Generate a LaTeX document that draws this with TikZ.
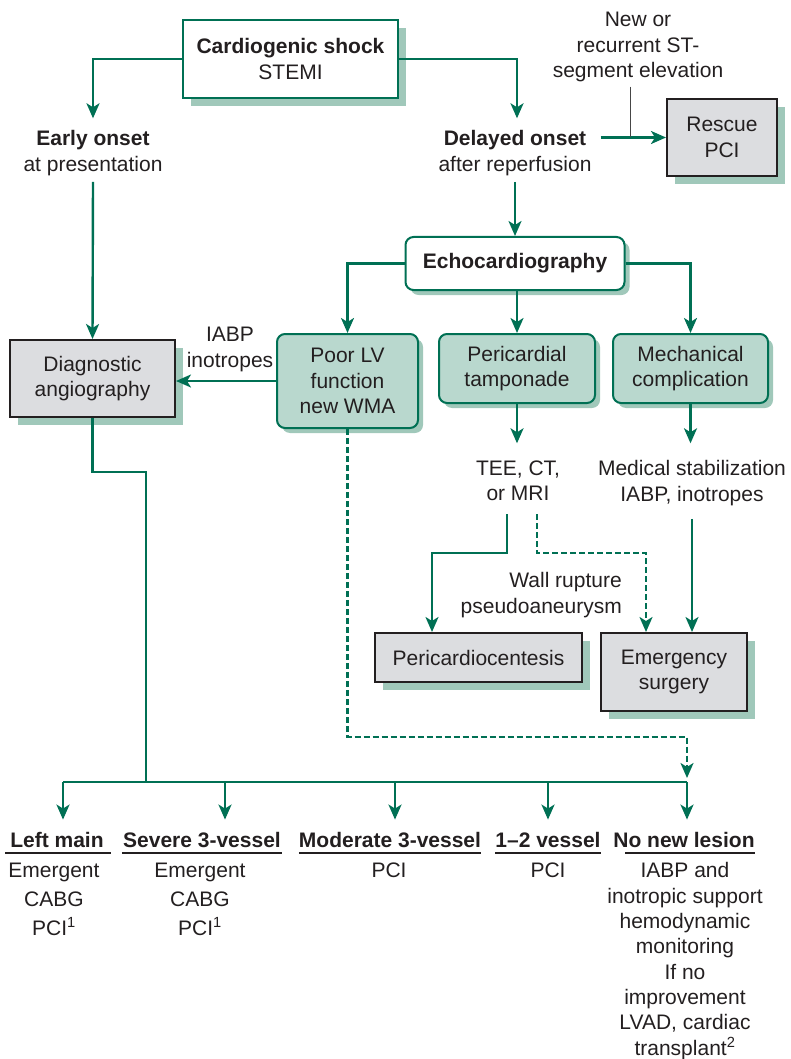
\documentclass[tikz,border=0pt]{standalone}
\usepackage{fontspec}
\setmainfont{Liberation Sans}
\usetikzlibrary{arrows.meta,calc,shadows}
\definecolor{grn}{RGB}{0,112,84}
\definecolor{tfill}{RGB}{185,216,206}
\definecolor{shc}{RGB}{160,200,186}
\definecolor{gfill}{RGB}{220,221,224}
\definecolor{ink}{RGB}{35,31,32}
\definecolor{stc}{RGB}{70,70,70}
\begin{document}
\begin{tikzpicture}[x=1pt,y=-1pt,
  every node/.style={text=ink},
  font=\fontsize{21}{25.5}\selectfont,
  txt/.style={inner sep=0pt, align=center},
  wbox/.style={draw=grn, line width=2pt, fill=white, align=center, inner sep=2pt,
    drop shadow={shadow xshift=8pt, shadow yshift=-8pt, fill=shc, opacity=1}},
  gbox/.style={draw=ink, line width=2pt, fill=gfill, align=center, inner sep=2pt,
    drop shadow={shadow xshift=8pt, shadow yshift=-8pt, fill=shc, opacity=1}},
  tbox/.style={draw=grn, line width=2pt, fill=tfill, rounded corners=8pt, align=center, inner sep=2pt,
    drop shadow={shadow xshift=5pt, shadow yshift=-5pt, fill=shc, opacity=1}},
  ebox/.style={draw=grn, line width=2pt, fill=white, rounded corners=8pt, align=center, inner sep=2pt,
    drop shadow={shadow xshift=5pt, shadow yshift=-5pt, fill=shc, opacity=1}},
  line/.style={draw=grn, line width=2.4pt},
  arr/.style={line, -{Stealth[length=15pt, width=13pt, inset=4pt]}},
  dasharr/.style={draw=grn, line width=2.4pt, dash pattern=on 6pt off 3pt, -{Stealth[length=15pt, width=13pt, inset=4pt]}},
  stl/.style={draw=stc, line width=1pt},
  uline/.style={draw=ink, line width=1.2pt}
]
\useasboundingbox (0,0) rectangle (790,1059);

% boxes
\node[wbox, minimum width=215, minimum height=78] (cs) at (290.5,59) {\textbf{Cardiogenic shock}\\STEMI};
\node[gbox, minimum width=110, minimum height=77] (rescue) at (722,137.5) {Rescue\\PCI};
\node[ebox, minimum width=219, minimum height=53] (echo) at (515,263.5) {\textbf{Echocardiography}};
\node[tbox, minimum width=141, minimum height=94] (poor) at (347.5,381) {Poor LV\\function\\new WMA};
\node[tbox, minimum width=156, minimum height=69] (peri) at (517,368.5) {Pericardial\\tamponade};
\node[tbox, minimum width=155, minimum height=69] (mech) at (690.5,368.5) {Mechanical\\complication};
\node[gbox, minimum width=165, minimum height=77] (diag) at (92.5,378.5) {Diagnostic\\angiography};
\node[gbox, minimum width=207, minimum height=49] (pcent) at (478.5,657.5) {Pericardiocentesis};
\node[gbox, minimum width=146, minimum height=78] (emerg) at (674,672) {Emergency\\surgery};

% text labels
\node[txt, anchor=north] (early) at (93,130.3) {\textbf{Early onset}\\at presentation};
\node[txt, anchor=north] (delayed) at (515,130.3) {\textbf{Delayed onset}\\after reperfusion};
\node[txt, anchor=north] (st) at (638,12.3) {New or\\recurrent ST-\\segment elevation};
\node[txt, anchor=north] (iabp) at (230,327) {IABP\\inotropes};
\node[txt, anchor=north] (tee) at (518,460.3) {TEE, CT,\\or MRI};
\node[txt, anchor=north] (med) at (692,460.3) {Medical stabilization\\IABP, inotropes};
\node[txt, anchor=north east, align=right] (wall) at (622,572.3) {Wall rupture\\pseudoaneurysm};

% bottom titles
\node[txt, anchor=base] (t1) at (57,847) {\textbf{Left main}};
\node[txt, anchor=base] (t2) at (202,847) {\textbf{Severe 3-vessel}};
\node[txt, anchor=base] (t3) at (390,847) {\textbf{Moderate 3-vessel}};
\node[txt, anchor=base] (t4) at (548,847) {\textbf{1–2 vessel}};
\node[txt, anchor=base] (t5) at (684,847) {\textbf{No new lesion}};
\draw[uline] ($(t1.base west)+(-5,6)$) -- ($(t1.base east)+(7,6)$);
\draw[uline] ($(t2.base west)+(-1,6)$) -- ($(t2.base east)+(1,6)$);
\draw[uline] ($(t3.base west)+(0,6)$) -- ($(t3.base east)+(0,6)$);
\draw[uline] ($(t4.base west)+(0,6)$) -- ($(t4.base east)+(0,6)$);
\draw[uline] ($(t5.base west)+(12,6)$) -- ($(t5.base east)+(0,6)$);

% bottom columns
\node[txt, anchor=north, font=\fontsize{21}{29}\selectfont] (c1) at (54,862.5) {Emergent\\CABG\\PCI\textsuperscript{1}};
\node[txt, anchor=north, font=\fontsize{21}{29}\selectfont] (c2) at (200,862.5) {Emergent\\CABG\\PCI\textsuperscript{1}};
\node[txt, anchor=north] (c3) at (389,862.5) {PCI};
\node[txt, anchor=north] (c4) at (548,862.5) {PCI};
\node[txt, anchor=north, font=\fontsize{21}{25.3}\selectfont] (c5) at (685,862.5) {IABP and\\inotropic support\\hemodynamic\\monitoring\\If no\\improvement\\LVAD, cardiac\\transplant\textsuperscript{2}};

% coordinates
\coordinate (b1) at (63,782);
\coordinate (b2) at (225,782);
\coordinate (b3) at (395,782);
\coordinate (b4) at (548,782);
\coordinate (b5) at (687,782);
\coordinate (j1) at (146,472);
\coordinate (dj) at (687,737);
\coordinate (k1) at (432,553);
\coordinate (k2) at (646,553);
\coordinate (stx) at (630,137);

% connectors
\draw[arr] (cs.west) -| ($(early.north)+(0,-12)$);
\draw[arr] (cs.east) -| ($(delayed.north)+(2,-12)$);
\draw[arr] ($(delayed.east |- rescue.west)+(9,0)$) -- (rescue.west);
\draw[stl] ($(stx |- st.south)+(0,4)$) -- (stx);
\draw[arr] ($(early.south)+(0,6)$) -- (diag.north);
\draw[arr] ($(delayed.south)+(0,6)$) -- (echo.north);
\draw[arr] (echo.west) -| (poor.north);
\draw[arr] (echo.south -| peri.north) -- (peri.north);
\draw[arr] (echo.east) -| (mech.north);
\draw[arr] (poor.west) -- (poor.west -| diag.east);
\draw[arr] (peri.south) -- ($(peri.south |- tee.north)+(0,-17)$);
\draw[arr] (mech.south) -- ($(mech.south |- med.north)+(0,-17)$);
\draw[arr] ($(tee.south)+(-11,13)$) |- (k1) -- (k1 |- pcent.north);
\draw[dasharr] ($(tee.south)+(19,13)$) |- (k2) -- (k2 |- emerg.north);
\draw[arr] ($(med.south)+(0,13)$) -- (med.south |- emerg.north);
\draw[line] (diag.south) |- (j1) -- (j1 |- b1);
\draw[line] (b1) -- (b5);
\draw[dasharr] (poor.south) |- (dj) -- ($(b5)+(0,-4)$);
\draw[arr] (b1) -- ($(b1 |- t1.north)+(0,-12)$);
\draw[arr] (b2) -- ($(b2 |- t1.north)+(0,-12)$);
\draw[arr] (b3) -- ($(b3 |- t1.north)+(0,-12)$);
\draw[arr] (b4) -- ($(b4 |- t1.north)+(0,-12)$);
\draw[arr] (b5) -- ($(b5 |- t1.north)+(0,-12)$);
\end{tikzpicture}
\end{document}
